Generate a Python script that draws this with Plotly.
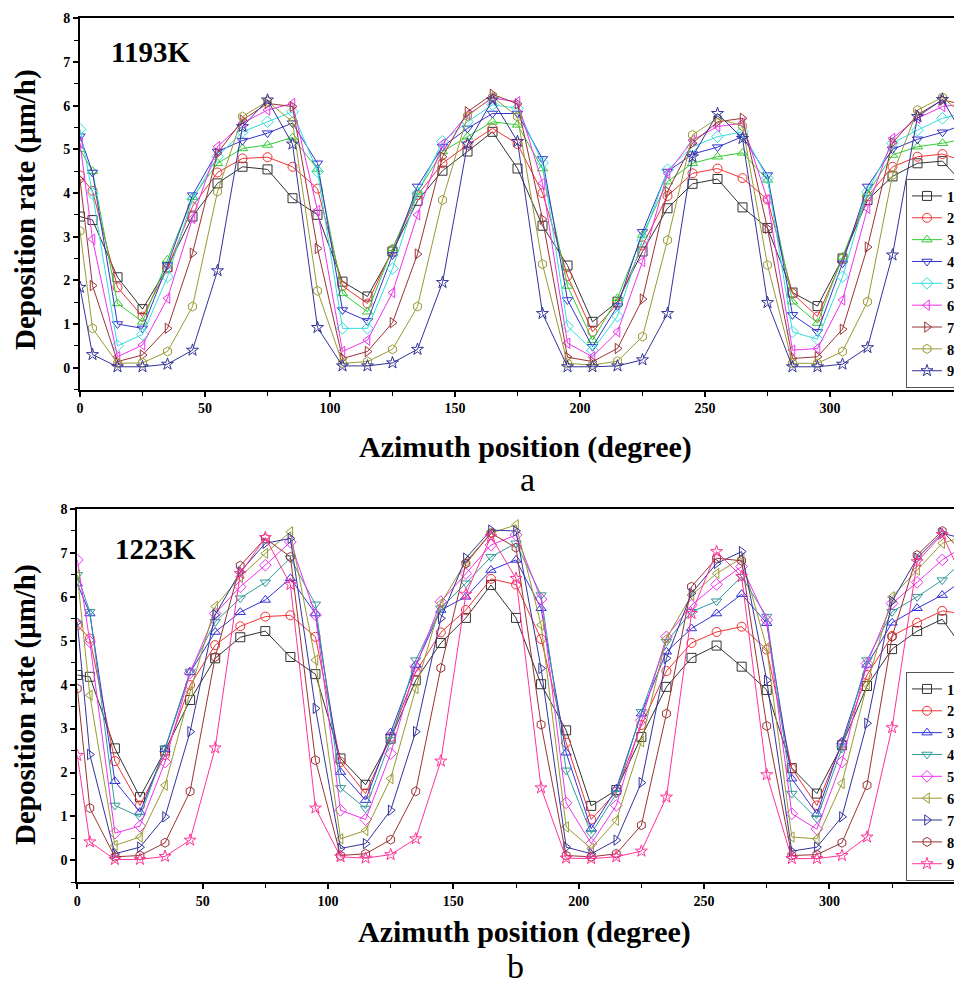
import plotly.graph_objects as go

# the page body has an 8px margin, so the figure is drawn 8px in from the corner
OFF = 8
W, H = 962 - OFF, 995 - OFF

# azimuth positions (degree)
azimuth = [0, 5, 15, 25, 35, 45, 55, 65, 75, 85, 95, 105, 115, 125, 135, 145, 155, 165,
           175, 185, 195, 205, 215, 225, 235, 245, 255, 265, 275, 285, 295, 305, 315, 325,
           335, 345, 355]

names = ['1', '2', '3', '4', '5', '6', '7', '8', '9']

# panel a, 1193K
a1 = [3.46, 3.38, 2.07, 1.34, 2.3, 3.46, 4.22, 4.6, 4.54, 3.88, 3.5, 1.97, 1.63, 2.66, 3.82, 4.51, 4.95, 5.4, 4.56,
      3.25, 2.34, 1.05, 1.51, 2.66, 3.65, 4.21, 4.32, 3.67, 3.2, 1.72, 1.41, 2.5, 3.84, 4.38, 4.68, 4.73, 4.1]
a2 = [4.4, 4.05, 1.84, 1.17, 2.27, 3.69, 4.47, 4.79, 4.82, 4.6, 4.1, 1.87, 1.47, 2.7, 3.95, 4.68, 5.1, 5.48, 5.12,
      4.0, 2.1, 0.82, 1.47, 2.8, 3.93, 4.45, 4.56, 4.34, 3.85, 1.7, 1.17, 2.5, 3.92, 4.6, 4.83, 4.89, 4.7]
a3 = [5.0, 4.5, 1.47, 1.05, 2.47, 3.9, 4.68, 5.02, 5.1, 5.27, 4.55, 1.7, 1.28, 2.73, 4.03, 4.95, 5.29, 5.63, 5.56,
      4.56, 1.87, 0.63, 1.59, 3.04, 4.26, 4.68, 4.83, 4.92, 4.3, 1.51, 1.02, 2.54, 3.99, 4.87, 5.06, 5.14, 5.25]
a4 = [5.3, 4.47, 1.0, 0.9, 2.35, 3.95, 4.95, 5.2, 5.37, 5.6, 4.68, 1.32, 1.07, 2.58, 4.15, 5.06, 5.48, 5.82, 5.82,
      4.78, 1.55, 0.48, 1.41, 3.11, 4.49, 4.89, 5.05, 5.29, 4.41, 1.21, 0.82, 2.39, 4.15, 5.0, 5.23, 5.39, 5.6]
a5 = [5.46, 3.99, 0.5, 0.76, 2.08, 3.86, 4.83, 5.4, 5.63, 5.86, 4.49, 0.9, 0.9, 2.27, 4.0, 5.18, 5.63, 6.02, 5.94,
      4.69, 0.95, 0.4, 1.18, 2.92, 4.53, 5.06, 5.29, 5.4, 4.34, 0.82, 0.65, 2.08, 4.03, 5.14, 5.44, 5.71, 5.85]
a6 = [5.15, 2.94, 0.25, 0.52, 1.59, 3.42, 5.06, 5.6, 5.9, 6.05, 3.6, 0.37, 0.63, 1.72, 3.5, 5.12, 5.79, 6.17, 6.09,
      4.22, 0.56, 0.25, 0.82, 2.43, 4.45, 5.21, 5.52, 5.6, 3.84, 0.4, 0.44, 1.55, 3.65, 5.25, 5.71, 5.98, 6.05]
a7 = [4.3, 1.88, 0.14, 0.29, 0.9, 2.62, 4.91, 5.67, 6.05, 5.98, 2.73, 0.21, 0.37, 1.03, 2.6, 4.83, 5.86, 6.26, 6.04,
      3.4, 0.24, 0.14, 0.44, 1.57, 4.03, 5.14, 5.63, 5.71, 3.19, 0.21, 0.25, 0.88, 2.76, 5.15, 5.79, 6.13, 6.0]
a8 = [3.13, 0.9, 0.1, 0.11, 0.37, 1.4, 4.03, 5.75, 6.1, 5.63, 1.76, 0.1, 0.14, 0.42, 1.4, 3.84, 5.76, 6.2, 5.75,
      2.37, 0.1, 0.06, 0.15, 0.71, 2.92, 5.33, 5.71, 5.53, 2.35, 0.1, 0.1, 0.37, 1.51, 4.41, 5.9, 6.19, 5.7]
a9 = [1.84, 0.3, 0.02, 0.02, 0.08, 0.4, 2.22, 5.52, 6.13, 5.12, 0.92, 0.04, 0.04, 0.11, 0.42, 1.95, 5.12, 6.13, 5.18,
      1.24, 0.02, 0.02, 0.04, 0.18, 1.24, 4.83, 5.82, 5.25, 1.49, 0.02, 0.02, 0.08, 0.46, 2.58, 5.75, 6.14, 5.15]

# panel b, 1223K
b1 = [4.22, 4.18, 2.55, 1.44, 2.5, 3.65, 4.6, 5.08, 5.22, 4.63, 4.24, 2.32, 1.72, 2.77, 4.1, 4.95, 5.52, 6.27, 5.52,
      4.01, 2.96, 1.24, 1.6, 2.81, 3.95, 4.61, 4.89, 4.41, 3.88, 2.1, 1.52, 2.62, 3.97, 4.81, 5.22, 5.49, 4.7]
b2 = [5.35, 5.05, 2.26, 1.25, 2.4, 3.99, 4.9, 5.33, 5.55, 5.58, 5.09, 2.24, 1.52, 2.81, 4.29, 5.19, 5.7, 6.41, 6.28,
      5.04, 2.68, 0.93, 1.56, 3.08, 4.31, 4.95, 5.2, 5.32, 4.8, 2.09, 1.25, 2.66, 4.22, 5.11, 5.41, 5.68, 5.6]
b3 = [6.3, 5.62, 1.8, 1.1, 2.53, 4.28, 5.2, 5.65, 5.93, 6.42, 5.62, 2.01, 1.37, 2.91, 4.45, 5.7, 6.0, 6.61, 6.84,
      5.74, 2.45, 0.72, 1.63, 3.34, 4.75, 5.28, 5.62, 6.06, 5.4, 1.86, 1.06, 2.7, 4.45, 5.41, 5.74, 6.04, 6.45]
b4 = [6.5, 5.66, 1.25, 0.99, 2.55, 4.3, 5.43, 5.97, 6.33, 6.88, 5.83, 1.65, 1.18, 2.74, 4.56, 5.74, 6.31, 6.91, 7.22,
      6.04, 2.05, 0.61, 1.52, 3.38, 4.98, 5.66, 5.9, 6.46, 5.55, 1.52, 0.95, 2.55, 4.56, 5.66, 6.0, 6.38, 6.9]
b5 = [6.84, 4.98, 0.62, 0.78, 2.24, 4.27, 5.62, 6.23, 6.72, 7.25, 5.59, 1.14, 0.93, 2.43, 4.41, 5.89, 6.53, 7.18, 7.41,
      5.95, 1.31, 0.38, 1.25, 3.19, 5.09, 5.81, 6.28, 6.69, 5.47, 1.06, 0.71, 2.24, 4.48, 5.85, 6.33, 6.84, 7.2]
b6 = [6.5, 3.76, 0.34, 0.53, 1.71, 3.84, 5.78, 6.46, 6.99, 7.48, 4.56, 0.49, 0.68, 1.86, 3.91, 5.85, 6.8, 7.45, 7.64,
      5.36, 0.76, 0.27, 0.91, 2.7, 5.05, 6.04, 6.53, 6.88, 4.84, 0.53, 0.49, 1.75, 4.0, 6.0, 6.61, 7.22, 7.4]
b7 = [5.43, 2.41, 0.15, 0.3, 0.99, 2.93, 5.59, 6.57, 7.22, 7.33, 3.46, 0.27, 0.38, 1.14, 2.93, 5.51, 6.88, 7.52, 7.5,
      4.37, 0.3, 0.15, 0.46, 1.77, 4.6, 6.08, 6.76, 7.03, 4.1, 0.21, 0.3, 0.99, 3.12, 5.9, 6.88, 7.45, 7.3]
b8 = [3.91, 1.19, 0.08, 0.11, 0.4, 1.57, 4.63, 6.71, 7.33, 6.91, 2.28, 0.11, 0.15, 0.47, 1.57, 4.38, 6.76, 7.45, 7.12,
      3.09, 0.11, 0.08, 0.15, 0.8, 3.34, 6.23, 6.88, 6.82, 3.06, 0.11, 0.13, 0.4, 1.71, 5.09, 6.95, 7.5, 6.9]
b9 = [2.39, 0.42, 0.02, 0.02, 0.09, 0.46, 2.56, 6.53, 7.35, 6.28, 1.19, 0.08, 0.05, 0.13, 0.49, 2.26, 6.06, 7.37, 6.42,
      1.65, 0.05, 0.04, 0.08, 0.21, 1.44, 5.62, 7.03, 6.46, 1.95, 0.04, 0.04, 0.11, 0.53, 3.02, 6.8, 7.42, 6.2]

series_a = [a1, a2, a3, a4, a5, a6, a7, a8, a9]
series_b = [b1, b2, b3, b4, b5, b6, b7, b8, b9]

colors_a = ['#333333', '#ee3333', '#33cc33', '#3333cc', '#33dddd', '#ee33ee', '#993333', '#999933', '#333399']
colors_b = ['#333333', '#ee3333', '#3333dd', '#339999', '#ee33ee', '#999933', '#333399', '#993333', '#ff3399']
symbols = ['square-open', 'circle-open', 'triangle-up-open', 'triangle-down-open', 'diamond-open',
           'triangle-left-open', 'triangle-right-open', 'hexagon-open', 'star-open']

SERIF = 'Liberation Serif, Times New Roman, serif'


# positions below are measured in window pixels
def fx(px):
    return (px - OFF) / W


def fy(py):
    return 1 - (py - OFF) / H


fig = go.Figure()

for i in range(9):
    fig.add_trace(go.Scatter(x=azimuth, y=series_a[i], name=names[i], mode='lines+markers',
                             line=dict(color=colors_a[i], width=1),
                             marker=dict(symbol=symbols[i], size=9, color=colors_a[i],
                                         line=dict(width=1, color=colors_a[i])),
                             xaxis='x', yaxis='y', legend='legend'))
for i in range(9):
    fig.add_trace(go.Scatter(x=azimuth, y=series_b[i], name=names[i], mode='lines+markers',
                             line=dict(color=colors_b[i], width=1),
                             marker=dict(symbol=symbols[i], size=9, color=colors_b[i],
                                         line=dict(width=1, color=colors_b[i])),
                             xaxis='x2', yaxis='y2', legend='legend2'))

tickfont = dict(family=SERIF, size=14, color='black', weight='bold')


def xax(dom, rng, anchor):
    return dict(domain=dom, range=rng, anchor=anchor, dtick=50, tick0=0,
                showline=True, linecolor='black', linewidth=2, mirror=True,
                ticks='outside', ticklen=5, tickwidth=1.5, tickcolor='black',
                showgrid=False, zeroline=False, tickfont=tickfont,
                minor=dict(dtick=25, ticks='outside', ticklen=4, tickwidth=1.2, tickcolor='black'))


def yax(dom, anchor):
    return dict(domain=dom, range=[-0.5, 8], anchor=anchor, dtick=1, tick0=0,
                showline=True, linecolor='black', linewidth=2,
                ticks='outside', ticklen=5, tickwidth=1.5, tickcolor='black',
                showgrid=False, zeroline=False, tickfont=tickfont,
                minor=dict(dtick=0.5, ticks='outside', ticklen=4, tickwidth=1.2, tickcolor='black'))


leg_font = dict(family=SERIF, size=14.5, color='black', weight='bold')

fig.update_layout(
    width=W, height=H,
    margin=dict(l=0, r=0, t=0, b=0, autoexpand=False),
    paper_bgcolor='white', plot_bgcolor='white',
    xaxis=xax([fx(80), 1], [0, (962 - 80) / 2.5], 'y'),
    yaxis=yax([fy(389.5), fy(18.3)], 'x'),
    xaxis2=xax([fx(77.3), 1], [0, (962 - 77.3) / 2.507], 'y2'),
    yaxis2=yax([fy(882.3), fy(509)], 'x2'),
    legend=dict(x=fx(906), y=fy(179), xanchor='left', yanchor='top', font=leg_font, itemwidth=30,
                bgcolor='white', bordercolor='#555555', borderwidth=1, tracegroupgap=0),
    legend2=dict(x=fx(906), y=fy(672), xanchor='left', yanchor='top', font=leg_font, itemwidth=30,
                 bgcolor='white', bordercolor='#555555', borderwidth=1, tracegroupgap=0),
    showlegend=True,
)

title_font = dict(family=SERIF, size=29, color='black', weight='bold')
label_font = dict(family=SERIF, size=29, color='black', weight='bold')
sub_font = dict(family=SERIF, size=34, color='black')

annos = [
    dict(text='1193K', x=fx(150), y=fy(52), font=label_font),
    dict(text='1223K', x=fx(155), y=fy(549), font=label_font),
    dict(text='Deposition rate (μm/h)', x=fx(25), y=fy(210), textangle=-90, font=title_font),
    dict(text='Deposition rate (μm/h)', x=fx(25), y=fy(705), textangle=-90, font=title_font),
    dict(text='Azimuth position (degree)', x=fx(525), y=fy(447), font=dict(title_font, size=30)),
    dict(text='Azimuth position (degree)', x=fx(524), y=fy(932), font=dict(title_font, size=30)),
    dict(text='a', x=fx(527), y=fy(479), font=sub_font),
    dict(text='b', x=fx(515), y=fy(966), font=sub_font),
]
for a in annos:
    a.update(xref='paper', yref='paper', showarrow=False, xanchor='center', yanchor='middle')
fig.update_layout(annotations=annos)

fig.write_html("out.html")
